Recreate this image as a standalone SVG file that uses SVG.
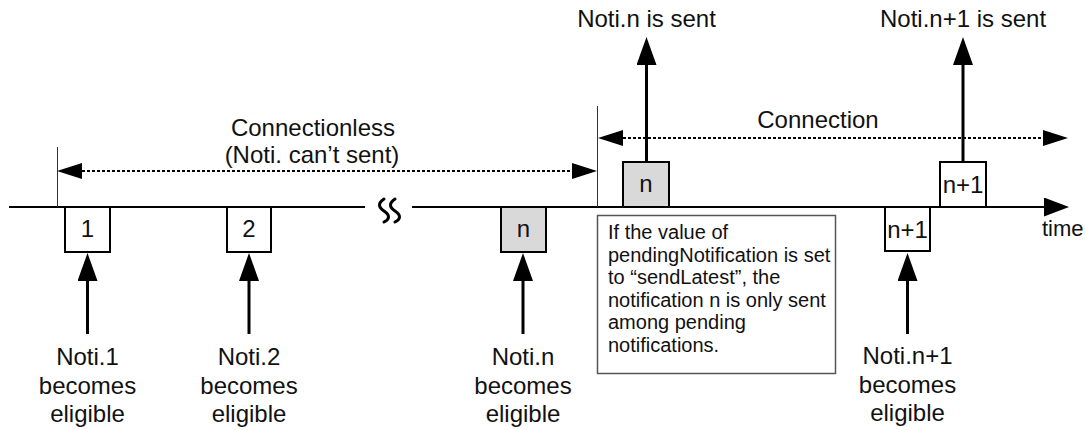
<svg xmlns="http://www.w3.org/2000/svg" width="1086" height="430" viewBox="0 0 1086 430">
<style>
text{font-family:"Liberation Sans",Arial,sans-serif;fill:#111}
.lbl{font-size:24px;text-anchor:middle}
.box{fill:#fff;stroke:#000;stroke-width:2}
.gray{fill:#d9d9d9}
.note{fill:#fff;stroke:#555;stroke-width:1.5}
.nt{font-size:20px}
.arr{stroke:#000;stroke-width:3;fill:none}
.dot{stroke:#000;stroke-width:2;stroke-dasharray:3 2;fill:none}
.bound{stroke:#333;stroke-width:1;fill:none}
.axis{stroke:#000;stroke-width:2;fill:none}
.wave{stroke:#000;stroke-width:3;fill:none;stroke-linecap:round}
</style>
<defs>
<marker id="big" markerUnits="userSpaceOnUse" viewBox="0 0 28 20" refX="0" refY="10" markerWidth="28" markerHeight="20" orient="auto"><path d="M0,0 L28,10 L0,20 z" fill="#000"/></marker>
<marker id="dh" markerUnits="userSpaceOnUse" viewBox="0 0 25 16" refX="0" refY="8" markerWidth="25" markerHeight="16" orient="auto-start-reverse"><path d="M0,0 L25,8 L0,16 z" fill="#000"/></marker>
<marker id="ax" markerUnits="userSpaceOnUse" viewBox="0 0 25 19" refX="0" refY="9.5" markerWidth="25" markerHeight="19" orient="auto"><path d="M0,0 L25,9.5 L0,19 z" fill="#000"/></marker>
</defs>

<g id="connectors">
<line class="axis" x1="9" y1="207" x2="365" y2="207"/>
<line class="axis" x1="412" y1="207" x2="1044" y2="207" marker-end="url(#ax)"/>
<path class="wave" d="M384,199 c-6,4 -6,8 0,12 c6,4 6,8 0,11"/>
<path class="wave" d="M395,199 c-6,4 -6,8 0,12 c6,4 6,8 0,11"/>
<line class="bound" x1="57.5" y1="147" x2="57.5" y2="207"/>
<line class="bound" x1="597.5" y1="106" x2="597.5" y2="207"/>
<line class="dot" x1="82" y1="171" x2="572" y2="171" marker-start="url(#dh)" marker-end="url(#dh)"/>
<line class="dot" x1="623" y1="138" x2="1043" y2="138" marker-start="url(#dh)" marker-end="url(#dh)"/>
<line class="arr" x1="87.5" y1="334" x2="87.5" y2="281" marker-end="url(#big)"/>
<line class="arr" x1="249" y1="334" x2="249" y2="281" marker-end="url(#big)"/>
<line class="arr" x1="523" y1="334" x2="523" y2="281" marker-end="url(#big)"/>
<line class="arr" x1="907.5" y1="334" x2="907.5" y2="281" marker-end="url(#big)"/>
<line class="arr" x1="646.5" y1="162" x2="646.5" y2="65" marker-end="url(#big)"/>
<line class="arr" x1="963" y1="162" x2="963" y2="65" marker-end="url(#big)"/>
</g>

<g id="box1"><rect class="box" x="65" y="207" width="45" height="45"/><text class="lbl" x="87.5" y="237">1</text></g>
<g id="box2"><rect class="box" x="227" y="207" width="44" height="45"/><text class="lbl" x="249" y="237">2</text></g>
<g id="boxn"><rect class="box gray" x="501" y="207" width="45" height="45"/><text class="lbl" x="523.5" y="237">n</text></g>
<g id="boxn-sent"><rect class="box gray" x="623" y="162" width="46" height="45"/><text class="lbl" x="646" y="192">n</text></g>
<g id="boxn1"><rect class="box" x="885" y="207" width="45" height="44"/><text class="lbl" x="907.5" y="238">n+1</text></g>
<g id="boxn1-sent"><rect class="box" x="940" y="162" width="46" height="45"/><text class="lbl" x="963" y="193">n+1</text></g>

<g id="label-time"><text x="1042" y="236" style="font-size:22px">time</text></g>
<g id="label-connectionless"><text class="lbl" x="313" y="136">Connectionless</text><text class="lbl" x="312" y="163">(Noti. can’t sent)</text></g>
<g id="label-connection"><text class="lbl" x="818" y="128">Connection</text></g>
<g id="label-sent-n"><text class="lbl" x="646.5" y="27">Noti.n is sent</text></g>
<g id="label-sent-n1"><text class="lbl" x="963" y="27">Noti.n+1 is sent</text></g>

<g id="label-e1"><text class="lbl" x="87.5" y="365">Noti.1</text><text class="lbl" x="87.5" y="394">becomes</text><text class="lbl" x="87.5" y="422">eligible</text></g>
<g id="label-e2"><text class="lbl" x="249" y="365">Noti.2</text><text class="lbl" x="249" y="394">becomes</text><text class="lbl" x="249" y="422">eligible</text></g>
<g id="label-en"><text class="lbl" x="523" y="365">Noti.n</text><text class="lbl" x="523" y="394">becomes</text><text class="lbl" x="523" y="422">eligible</text></g>
<g id="label-en1"><text class="lbl" x="907.5" y="364">Noti.n+1</text><text class="lbl" x="907.5" y="393">becomes</text><text class="lbl" x="907.5" y="421">eligible</text></g>

<g id="note">
<rect class="note" x="597.5" y="215.5" width="238" height="158"/>
<text class="nt" x="608" y="239">If the value of</text>
<text class="nt" x="608" y="261.5">pendingNotification is set</text>
<text class="nt" x="608" y="284">to “sendLatest”, the</text>
<text class="nt" x="608" y="306.5">notification n is only sent</text>
<text class="nt" x="608" y="329">among pending</text>
<text class="nt" x="608" y="351.5">notifications.</text>
</g>
</svg>
